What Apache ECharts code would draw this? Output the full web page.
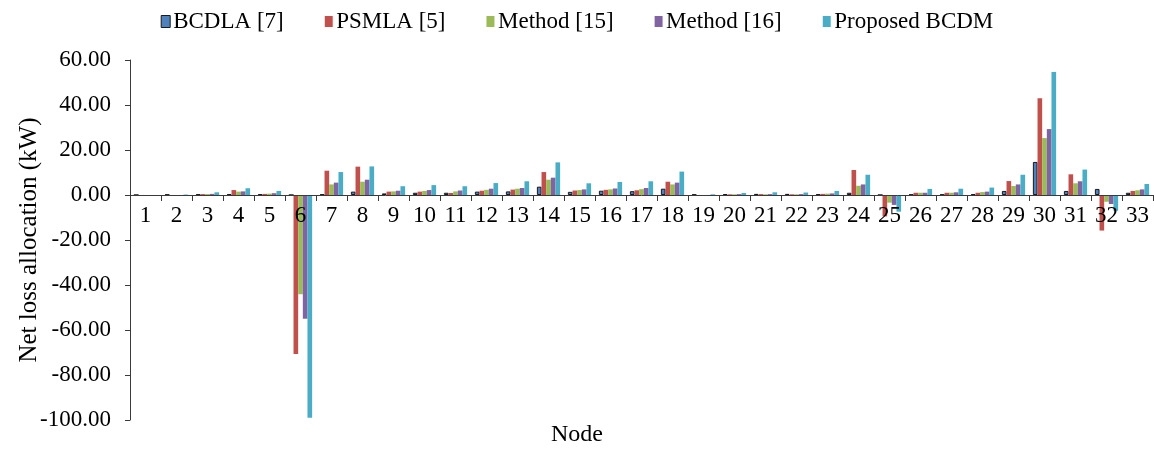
<!DOCTYPE html>
<html>
<head>
<meta charset="utf-8">
<script src="https://cdn.jsdelivr.net/npm/echarts@6/dist/echarts.min.js"></script>
<style>
  html, body { margin: 0; padding: 0; background: #ffffff; }
  #chart { width: 1154px; height: 450px; }
</style>
</head>
<body>
<div id="chart"></div>
<script>
// Net loss allocation per node (kW) for each allocation method
const nodes = Array.from({ length: 33 }, (_, i) => String(i + 1));

const bcdla = [0, 0.2, 0.3, 0.3, 0.3, 0, 0.3, 1.5, 0.7, 1.0, 1.0, 1.5, 1.6, 3.7, 1.4, 1.9, 1.7, 2.8, 0.2, 0.4, 0.5, 0.5, 0.3, 1.0, 0, 0.2, 0.2, 0.4, 1.8, 14.7, 1.8, 2.7, 1.0];
const psmla = [0, 0, 0.4, 2.2, 0.5, -70.7, 10.8, 12.6, 1.5, 1.5, 0.9, 1.9, 2.4, 10.2, 2.0, 2.3, 2.1, 5.9, 0, 0.3, 0.4, 0.3, 0.5, 11.1, -9.5, 1.0, 1.0, 1.0, 6.2, 43.0, 9.2, -15.8, 1.8];
const method15 = [0, 0, 0.4, 1.5, 0.6, -44.1, 4.7, 5.9, 1.6, 1.8, 1.6, 2.3, 2.8, 6.8, 2.2, 2.5, 2.6, 4.7, 0, 0.3, 0.3, 0.3, 0.6, 4.1, -3.4, 1.0, 1.0, 1.3, 4.0, 25.3, 5.2, -3.0, 2.1];
const method16 = [0, 0, 0.5, 1.6, 0.8, -55.0, 5.5, 6.8, 1.9, 2.2, 2.0, 2.8, 3.1, 7.7, 2.5, 2.9, 3.1, 5.5, 0, 0.4, 0.4, 0.4, 0.7, 4.7, -4.4, 1.0, 1.2, 1.5, 4.7, 29.3, 6.1, -4.0, 2.5];
const proposed = [0, 0.2, 1.2, 3.0, 1.8, -99.0, 10.2, 12.7, 3.9, 4.4, 3.9, 5.3, 6.1, 14.5, 5.2, 5.8, 6.1, 10.4, 0.3, 0.9, 1.2, 1.1, 1.8, 9.0, -7.4, 2.7, 2.8, 3.3, 9.0, 54.7, 11.3, -7.0, 4.9];

const seriesNames = ['BCDLA [7]', 'PSMLA [5]', 'Method [15]', 'Method [16]', 'Proposed BCDM'];
const seriesColors = ['#4F81BD', '#C0504D', '#9BBB59', '#8064A2', '#4BACC6'];
const seriesData = [bcdla, psmla, method15, method16, proposed];

const Y_MIN = -100, Y_MAX = 60, Y_STEP = 20;
const GRID = { left: 130, right: 1, top: 60, bottom: 30 };
const PLOT_H = 450 - GRID.top - GRID.bottom;
// the category axis sits on the zero line of the value axis
const zeroOffset = -PLOT_H * (0 - Y_MIN) / (Y_MAX - Y_MIN);

const FONT = '"Liberation Serif", "Times New Roman", serif';
const AXIS_COLOR = '#3a3a3a';

const chart = echarts.init(document.getElementById('chart'), null, { renderer: 'canvas' });

const series = seriesData.map((data, i) => ({
  name: seriesNames[i],
  type: 'bar',
  data: data,
  barGap: '0%',
  barCategoryGap: '25%',
  itemStyle: {
    color: seriesColors[i],
    borderColor: i === 0 ? '#1a1a1a' : seriesColors[i],
    borderWidth: i === 0 ? 1 : 0
  },
  emphasis: { disabled: true }
}));

chart.setOption({
  animation: false,
  backgroundColor: '#ffffff',
  title: {
    text: 'Node',
    left: 'center',
    top: 423,
    textStyle: { fontFamily: FONT, fontSize: 24, fontWeight: 'normal', color: '#000' },
    padding: 0
  },
  legend: {
    top: 5,
    left: 'center',
    itemWidth: 9,
    itemHeight: 12,
    itemGap: 40,
    icon: 'rect',
    textStyle: { fontFamily: FONT, fontSize: 23, color: '#000', padding: [0, 0, 0, -2] },
    data: seriesNames.map((n, i) => ({
      name: n,
      itemStyle: { borderColor: i === 0 ? '#1a1a1a' : '#ffffff', borderWidth: 1 }
    }))
  },
  grid: Object.assign({ containLabel: false }, GRID),
  xAxis: {
    type: 'category',
    data: nodes,
    position: 'bottom',
    offset: zeroOffset,
    z: 5,
    axisLine: { onZero: false, lineStyle: { color: AXIS_COLOR, width: 1 } },
    axisTick: { show: true, alignWithLabel: false, length: 6, lineStyle: { color: AXIS_COLOR } },
    axisLabel: { fontFamily: FONT, fontSize: 23, color: '#000', margin: 9, interval: 0 },
    splitLine: { show: false }
  },
  yAxis: {
    type: 'value',
    min: Y_MIN,
    max: Y_MAX,
    interval: Y_STEP,
    name: 'Net loss allocation (kW)',
    nameLocation: 'middle',
    nameGap: 88,
    nameMoveOverlap: false,
    nameTextStyle: { fontFamily: FONT, fontSize: 25, color: '#000' },
    axisLine: { show: true, lineStyle: { color: AXIS_COLOR, width: 1 } },
    axisTick: { show: true, length: 5, lineStyle: { color: AXIS_COLOR } },
    axisLabel: {
      fontFamily: FONT, fontSize: 23, color: '#000', margin: 19,
      formatter: v => v.toFixed(2)
    },
    splitLine: { show: false }
  },
  series: series
});
</script>
</body>
</html>
